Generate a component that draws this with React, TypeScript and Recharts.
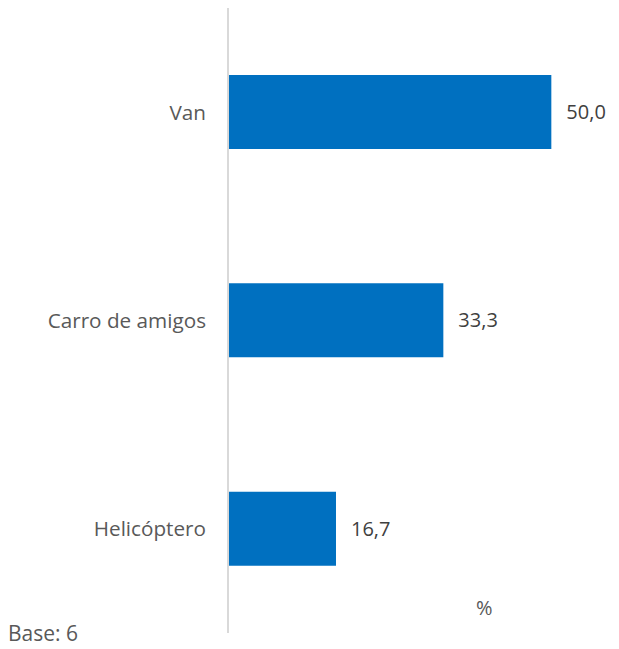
import { BarChart, Bar, XAxis, YAxis, LabelList } from "recharts"

const categories = ["Van", "Carro de amigos", "Helicóptero"]
const values = [50.0, 33.3, 16.7]

const data = categories.map((name, i) => ({ name, value: values[i] }))

const fmt = (v: any) => Number(v).toFixed(1).replace(".", ",")

const font = "'Open Sans', 'Noto Sans', sans-serif"

export default function App() {
  return (
    <div style={{ position: "absolute", left: 0, top: 0, width: 619, height: 649, fontFamily: font }}>
      <BarChart
        width={619}
        height={649}
        data={data}
        layout="vertical"
        margin={{ top: 8, right: 3, bottom: 16, left: 0 }}
        barSize={74}
      >
        <XAxis type="number" domain={[0, 60]} hide />
        <YAxis
          type="category"
          dataKey="name"
          width={228}
          tickLine={false}
          tickSize={0}
          tickMargin={22}
          axisLine={{ stroke: "#D9D9D9", strokeWidth: 2 }}
          tick={{ fill: "#595959", fontSize: 20.7, fontFamily: font }}
        />
        <Bar dataKey="value" fill="#0070C0" isAnimationActive={false}>
          <LabelList
            dataKey="value"
            position="right"
            offset={15}
            formatter={fmt}
            style={{ fill: "#404040", fontSize: 20, fontFamily: font }}
          />
        </Bar>
      </BarChart>
      <svg width={619} height={649} style={{ position: "absolute", left: 0, top: 0, pointerEvents: "none" }}>
        <text x={476} y={615} fontSize={20} fill="#595959" fontFamily={font}>%</text>
        <text x={8} y={641} fontSize={21} fill="#595959" fontFamily={font}>Base: 6</text>
      </svg>
    </div>
  )
}
